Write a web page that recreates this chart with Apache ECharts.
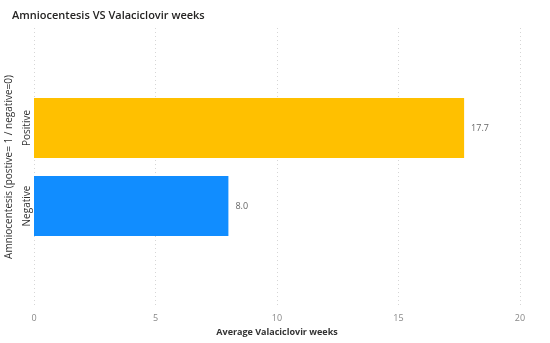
<!DOCTYPE html>
<html><head><meta charset="utf-8">
<script src="https://cdn.jsdelivr.net/npm/echarts@6/dist/echarts.min.js"></script>
<style>html,body{margin:0;padding:0;background:#fff}#c{width:550px;height:343px}</style>
</head><body><div id="c"></div>
<script>
const categories = ['Positive', 'Negative'];
const values = [17.7, 8.0];
const barColors = ['#FFC000', '#118DFF'];
const xTicks = {min: 0, max: 20, interval: 5};

const chart = echarts.init(document.getElementById('c'), null, {renderer: 'canvas'});
const font = 'Open Sans';
chart.setOption({
  animation: false,
  title: {
    text: 'Amniocentesis VS Valaciclovir weeks',
    left: 7, top: 5,
    textStyle: {fontFamily: font, fontSize: 11, fontWeight: 600, color: '#252423'}
  },
  grid: [
    {left: 34, right: 30, top: 89, height: 156, containLabel: false, outerBoundsMode: 'none'},
    {left: 34, right: 30, top: 28, bottom: 38, containLabel: false, outerBoundsMode: 'none'}
  ],
  xAxis: [
    {gridIndex: 0, type: 'value', min: xTicks.min, max: xTicks.max, interval: xTicks.interval,
     show: false},
    {gridIndex: 1, type: 'value', min: xTicks.min, max: xTicks.max, interval: xTicks.interval,
     axisLine: {show: false}, axisTick: {show: false},
     axisLabel: {color: '#888', fontFamily: font, fontSize: 9, margin: 9},
     splitLine: {show: true, lineStyle: {color: '#d6d6d6', type: [1, 3], width: 1}},
     name: 'Average Valaciclovir weeks', nameLocation: 'middle', nameGap: 23,
     nameTextStyle: {color: '#333', fontFamily: font, fontSize: 9, fontWeight: 'bold'}}
  ],
  yAxis: [
    {gridIndex: 0, type: 'category', data: categories, inverse: true,
     axisLine: {show: false}, axisTick: {show: false},
     axisLabel: {rotate: 90, color: '#333', fontFamily: font, fontSize: 10, margin: 2, align: 'center', verticalAlign: 'bottom'},
     name: 'Amniocentesis (postive= 1 / negative=0)', nameLocation: 'middle', nameGap: 12, nameRotate: 90,
     nameTextStyle: {color: '#333', fontFamily: font, fontSize: 10}},
    {gridIndex: 1, type: 'category', data: [], show: false}
  ],
  series: [{
    type: 'bar', xAxisIndex: 0, yAxisIndex: 0,
    data: values.map((v, i) => ({value: v, itemStyle: {color: barColors[i]}})),
    barWidth: 60,
    label: {show: true, position: 'right', distance: 7, formatter: p => p.value.toFixed(1),
            color: '#666', fontFamily: font, fontSize: 9}
  }]
});
</script></body></html>
